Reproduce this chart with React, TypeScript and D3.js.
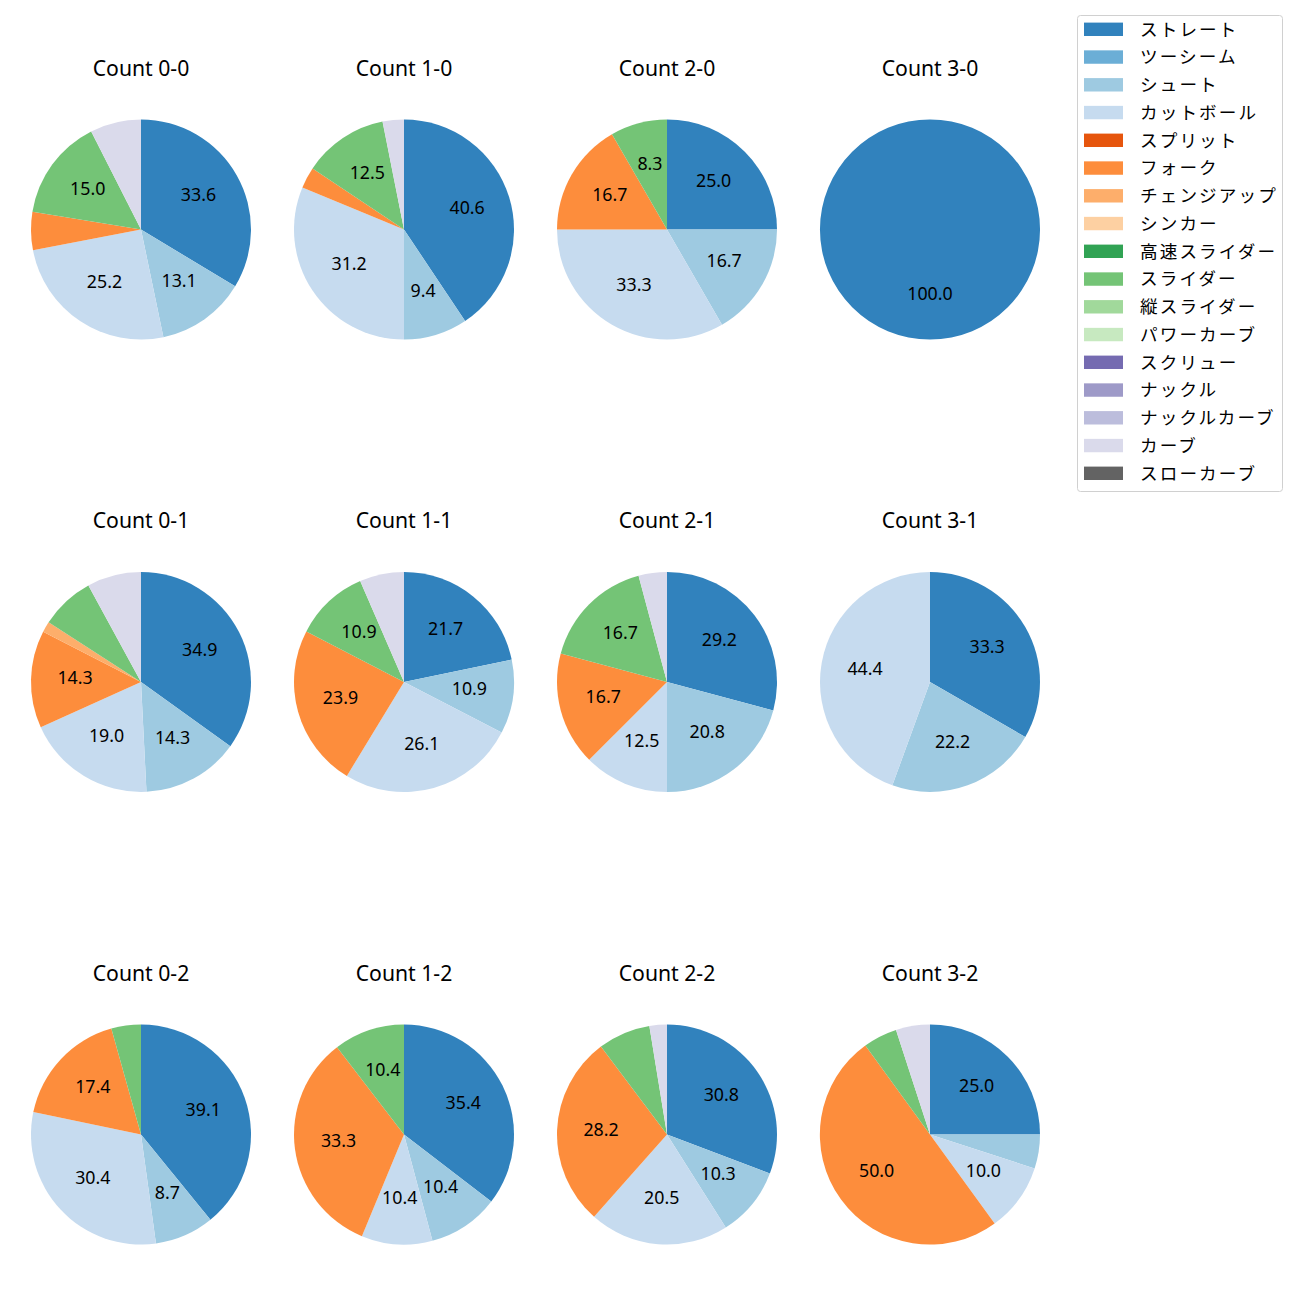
import React from "react";
import * as d3 from "d3";

const pitchTypes = ["ストレート","ツーシーム","シュート","カットボール","スプリット","フォーク","チェンジアップ","シンカー","高速スライダー","スライダー","縦スライダー","パワーカーブ","スクリュー","ナックル","ナックルカーブ","カーブ","スローカーブ"];
const pitchColors = ["#3182bd","#6baed6","#9ecae1","#c6dbef","#e6550d","#fd8d3c","#fdae6b","#fdd0a2","#31a354","#74c476","#a1d99b","#c7e9c0","#756bb1","#9e9ac8","#bcbddc","#dadaeb","#636363"];

const counts = ["0-0","1-0","2-0","3-0","0-1","1-1","2-1","3-1","0-2","1-2","2-2","3-2"];
// pitch counts per count situation, in pitchTypes order
const c00 = [36,0,14,27,0,6,0,0,0,16,0,0,0,0,0,8,0];
const c10 = [13,0,3,10,0,1,0,0,0,4,0,0,0,0,0,1,0];
const c20 = [3,0,2,4,0,2,0,0,0,1,0,0,0,0,0,0,0];
const c30 = [1,0,0,0,0,0,0,0,0,0,0,0,0,0,0,0,0];
const c01 = [22,0,9,12,0,9,1,0,0,5,0,0,0,0,0,5,0];
const c11 = [10,0,5,12,0,11,0,0,0,5,0,0,0,0,0,3,0];
const c21 = [7,0,5,3,0,4,0,0,0,4,0,0,0,0,0,1,0];
const c31 = [3,0,2,4,0,0,0,0,0,0,0,0,0,0,0,0,0];
const c02 = [9,0,2,7,0,4,0,0,0,1,0,0,0,0,0,0,0];
const c12 = [17,0,5,5,0,16,0,0,0,5,0,0,0,0,0,0,0];
const c22 = [12,0,4,8,0,11,0,0,0,3,0,0,0,0,0,1,0];
const c32 = [5,0,1,2,0,10,0,0,0,1,0,0,0,0,0,1,0];
const countData = [c00,c10,c20,c30,c01,c11,c21,c31,c02,c12,c22,c32];

const FONT = "'Noto Sans', 'Noto Sans CJK JP', sans-serif";

// one-decimal formatting with round-half-even on exact ties (like Python's %1.1f)
function fmt1(x: number): string {
  const t = x * 10;
  const fl = Math.floor(t);
  if (t - fl === 0.5) {
    const n = fl % 2 === 0 ? fl : fl + 1;
    return (n / 10).toFixed(1);
  }
  return x.toFixed(1);
}

export default function App() {
  const colX = [141, 404, 667, 930];
  const rowY = [229.5, 682, 1134.5];
  const R = 110;
  const pie = d3.pie<number>().sort(null).value((d) => d).startAngle(0).endAngle(2 * Math.PI);
  const arc = d3.arc<d3.PieArcDatum<number>>().innerRadius(0).outerRadius(R);
  const labelArc = d3.arc<d3.PieArcDatum<number>>().innerRadius(R * 0.6).outerRadius(R * 0.6);

  return (
    <svg width={1300} height={1300} style={{ display: "block", position: "absolute", left: 0, top: 0, fontFamily: FONT }}>
      <rect width={1300} height={1300} fill="#fff" />
      {countData.map((vals, i) => {
        const cx = colX[i % 4];
        const cy = rowY[Math.floor(i / 4)];
        const total = d3.sum(vals);
        const arcs = pie(vals);
        return (
          <g key={i}>
            <text x={cx} y={cy - 154} textAnchor="middle" fontSize={21.2} fill="#000">
              {"Count " + counts[i]}
            </text>
            <g transform={`translate(${cx},${cy})`}>
              {arcs.map((a, j) =>
                a.value > 0 ? <path key={j} d={arc(a) || ""} fill={pitchColors[j]} /> : null
              )}
              {arcs.map((a, j) => {
                const pct = (a.value / total) * 100;
                if (pct < 8) return null;
                const [lx, ly] = pct >= 99.99 ? [0, R * 0.6] : labelArc.centroid(a);
                return (
                  <text key={"l" + j} x={lx} y={ly + 4} textAnchor="middle" fontSize={17.8} fill="#000">
                    {fmt1(pct)}
                  </text>
                );
              })}
            </g>
          </g>
        );
      })}
      <g>
        <rect x={1077.5} y={15.5} width={205} height={476} rx={3} fill="#fff" stroke="#d0d0d0" strokeWidth={1} />
        {pitchTypes.map((p, k) => {
          const y = 29.3 + k * 27.75;
          return (
            <g key={p}>
              <rect x={1084} y={y - 6.7} width={39} height={13.4} fill={pitchColors[k]} />
              <text x={1140} y={y + 6.4} fontSize={17.6} letterSpacing={2.1} fill="#000">{p}</text>
            </g>
          );
        })}
      </g>
    </svg>
  );
}
